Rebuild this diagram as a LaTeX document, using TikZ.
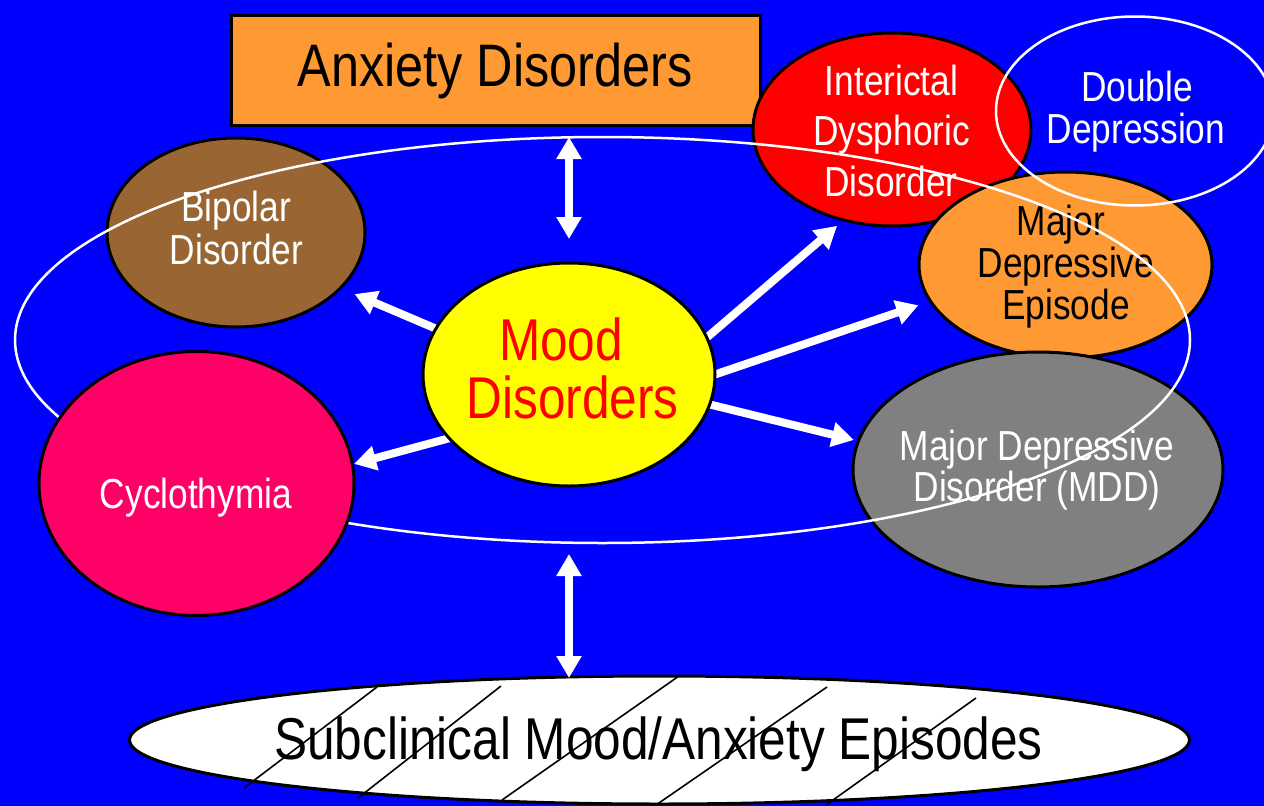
\documentclass[tikz,border=0pt]{standalone}
\usepackage{fontspec}
\setmainfont{Liberation Sans}[FakeStretch=0.84]
\usetikzlibrary{shapes.geometric,arrows.meta}
\definecolor{bgblue}{HTML}{0000FF}
\definecolor{orangec}{HTML}{FF9933}
\definecolor{brownc}{HTML}{996633}
\definecolor{redc}{HTML}{FF0000}
\definecolor{grayc}{HTML}{808080}
\definecolor{pinkc}{HTML}{FF0066}
\definecolor{yellowc}{HTML}{FFFF00}
\tikzset{
  shp/.style={ellipse, draw=black, line width=3pt, inner sep=0pt, outer sep=0pt},
  wring/.style={ellipse, draw=white, line width=2.5pt, inner sep=0pt, outer sep=0pt},
  lbl/.style={anchor=base, inner sep=0pt, font=\fontsize{42}{42}\selectfont},
  biglbl/.style={anchor=base, inner sep=0pt, font=\fontsize{60}{60}\selectfont},
  arr/.style={draw=white, line width=8pt, -{Triangle[length=22pt,width=24pt]}},
  dbl/.style={draw=white, line width=8pt, {Triangle[length=22pt,width=24pt]}-{Triangle[length=22pt,width=24pt]}},
  hatch/.style={draw=black, line width=1.6pt},
}
\begin{document}
\begin{tikzpicture}[x=1pt,y=-1pt]
\useasboundingbox (0,0) rectangle (1264,806);
\fill[bgblue] (0,0) rectangle (1264,806);

% Anxiety box
\node[draw=black, fill=orangec, line width=3pt, inner sep=0pt, outer sep=0pt,
      minimum width=529pt, minimum height=110pt] (anx) at (495.5,70) {};
\node[biglbl] (anxA) at (495,86) {Anxiety Disorders};

% Bipolar
\node[shp, fill=brownc, minimum width=258pt, minimum height=189pt] (bip) at (236,232.5) {};
\node[lbl, white] (bipA) at (236,221.7) {Bipolar};
\node[lbl, white] (bipB) at (236.5,264) {Disorder};

% Interictal
\node[shp, fill=redc, minimum width=278pt, minimum height=193pt] (ict) at (892,129.5) {};
\node[lbl, white] (ictA) at (891.5,95) {Interictal};
\node[lbl, white] (ictB) at (891.5,145) {Dysphoric};
\node[lbl, white] (ictC) at (891,196.7) {Disorder};

% Major Depressive Episode
\node[shp, fill=orangec, minimum width=293pt, minimum height=186pt] (mde) at (1065.5,265) {};
\node[lbl, black] (mdeA) at (1061,235) {Major};
\node[lbl, black] (mdeB) at (1066,277) {Depressive};
\node[lbl, black] (mdeC) at (1066,319) {Episode};

% Double Depression
\node[wring, minimum width=278pt, minimum height=189pt] (dd) at (1135,111) {};
\node[lbl, white] (ddA) at (1137,101.7) {Double};
\node[lbl, white] (ddB) at (1136,143.3) {Depression};

% MDD
\node[shp, fill=grayc, minimum width=370pt, minimum height=235pt] (mdd) at (1038,469.5) {};
\node[lbl, white] (mddA) at (1037,460) {Major Depressive};
\node[lbl, white] (mddB) at (1037,501.7) {Disorder (MDD)};

% big ring
\node[wring, minimum width=1175pt, minimum height=406pt] (ring) at (602.5,340) {};

% Cyclothymia
\node[shp, fill=pinkc, minimum width=315pt, minimum height=264pt] (cyc) at (196.5,483.5) {};
\node[lbl, white] (cycA) at (196,508.3) {Cyclothymia};

% Mood Disorders (shape first for anchors, drawn later on top)
\path node[ellipse, inner sep=0pt, outer sep=0pt, minimum width=292pt, minimum height=223pt] (mood) at (569,374.5) {};

% arrows
\draw[arr, shorten <=-12pt, shorten >=15.4pt] (mood.161.2) -- (bip.-28.3);
\draw[arr, shorten <=-12pt, shorten >=1.8pt] (mood.208.3) -- (cyc.7.3);
\draw[arr, shorten <=-12pt, shorten >=8.9pt] (mood.15.5) -- (ict.242.8);
\draw[arr, shorten <=-12pt, shorten >=12.8pt] (mood.0.6) -- (mde.195.3);
\draw[arr, shorten <=-12pt, shorten >=4.8pt] (mood.-12.8) -- (mdd.171.75);
\draw[dbl, shorten <=12pt, shorten >=24pt] (mood.north |- anx.south) -- (mood.north);

% Mood ellipse on top
\node[shp, fill=yellowc, minimum width=292pt, minimum height=223pt] (moodfill) at (mood) {};
\node[biglbl, redc, font=\fontsize{59}{59}\selectfont] (moodA) at (561,360) {Mood};
\node[biglbl, redc, font=\fontsize{59}{59}\selectfont] (moodB) at (572.5,418) {Disorders};

% Subclinical
\node[shp, fill=white, minimum width=1060pt, minimum height=128pt] (sub) at (659.5,740) {};
\draw[dbl, shorten <=68pt, shorten >=-2pt] (mood.south) -- (mood.south |- sub.north);
\draw[hatch] (244,788) -- (377,687);
\draw[hatch] (358,798) -- (501,686);
\draw[hatch] (502,800) -- (679,676);
\draw[hatch] (656,805) -- (827,687);
\draw[hatch] (826,805) -- (976,698);
\node[biglbl, black, font=\fontsize{59}{59}\selectfont] (subA) at (658.5,759) {Subclinical Mood/Anxiety Episodes};
\end{tikzpicture}
\end{document}
